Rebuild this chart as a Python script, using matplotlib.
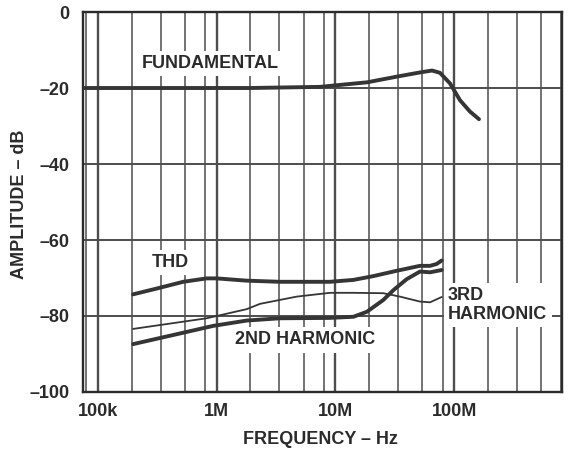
import matplotlib
matplotlib.use('Agg')
import matplotlib.pyplot as plt
from matplotlib.ticker import FixedLocator, NullFormatter

plt.rcParams['font.family'] = ['Liberation Sans', 'DejaVu Sans']
plt.rcParams['font.weight'] = 'bold'
plt.rcParams['axes.labelweight'] = 'bold'

# Data (frequency in Hz, amplitude in dB)
fund_freq = [75e3, 500e3, 1.91e6, 7.41e6, 18.5e6, 33e6, 51.6e6, 65.2e6, 76e6, 92.4e6, 112e6, 136e6, 162e6]
fund_db = [-20.0, -20.0, -20.0, -19.7, -18.5, -17.0, -15.9, -15.4, -16.0, -18.8, -23.2, -26.2, -28.2]

thd_freq = [198e3, 320e3, 523e3, 824e3, 1.0e6, 1.79e6, 3.41e6, 9.0e6, 14.2e6, 20.9e6, 32.8e6, 51.6e6, 62.7e6, 71.3e6, 78.6e6]
thd_db = [-74.3, -72.7, -71.0, -70.1, -70.1, -70.7, -71.0, -71.0, -70.5, -69.5, -68.1, -66.8, -66.8, -66.3, -65.4]

h2_freq = [198e3, 491e3, 936e3, 1.79e6, 3.41e6, 9.0e6, 14.2e6, 18.4e6, 25.3e6, 30.8e6, 39.9e6, 51.6e6, 62.7e6, 78.6e6]
h2_db = [-87.4, -84.6, -82.6, -81.2, -80.6, -80.5, -80.2, -78.9, -75.8, -73.2, -70.3, -68.3, -68.5, -67.9]

h3_freq = [198e3, 824e3, 1.79e6, 2.32e6, 4.72e6, 9.0e6, 14.2e6, 25.3e6, 35e6, 51.6e6, 62.7e6, 78.6e6]
h3_db = [-83.4, -80.6, -78.2, -76.8, -74.9, -73.9, -73.9, -74.0, -74.9, -76.2, -76.4, -75.0]

x_ticks = [1e5, 1e6, 1e7, 1e8]
x_labels = ['100k', '1M', '10M', '100M']
y_ticks = [0, -20, -40, -60, -80, -100]
y_labels = ['0', '\u201320', '\u201340', '\u201360', '\u201380', '\u2013100']

ink = '#2b2b2b'
grid_c = '#4d4d4d'
fs = 13

fig = plt.figure(figsize=(5.73, 4.5), dpi=100)
ax = fig.add_axes([0.1449, 0.1289, 0.8359, 0.8444])
ax.set_xscale('log')
ax.set_xlim(75e3, 8.1e8)
ax.set_ylim(-100, 0)

ax.set_xticks(x_ticks)
ax.set_xticklabels(x_labels)
minor = [d * m for d in [1e4, 1e5, 1e6, 1e7, 1e8] for m in [1.92, 3.37, 5.4, 8.0]]
ax.xaxis.set_minor_locator(FixedLocator(minor))
ax.xaxis.set_minor_formatter(NullFormatter())
ax.set_yticks(y_ticks)
ax.set_yticklabels(y_labels)
ax.tick_params(which='both', length=0, labelsize=fs, colors=ink)
ax.tick_params(axis='x', pad=8)
ax.tick_params(axis='y', pad=10)

ax.set_axisbelow(True)
ax.xaxis.grid(True, which='major', color=grid_c, lw=1.7)
ax.xaxis.grid(True, which='minor', color=grid_c, lw=1.1)
ax.yaxis.grid(True, which='major', color=grid_c, lw=1.4)
for s in ax.spines.values():
    s.set_linewidth(1.7)
    s.set_color(ink)

line_c = '#353535'
ax.plot(fund_freq, fund_db, color=line_c, lw=2.8, solid_capstyle='round', zorder=3)
ax.plot(thd_freq, thd_db, color=line_c, lw=2.8, solid_capstyle='round', zorder=3)
ax.plot(h2_freq, h2_db, color=line_c, lw=2.8, solid_capstyle='round', zorder=3)
ax.plot(h3_freq, h3_db, color=line_c, lw=1.3, solid_capstyle='round', zorder=3)

box = dict(facecolor='white', edgecolor='none', pad=3)
ax.text(2.33e5, -13.5, 'FUNDAMENTAL', fontsize=fs, color=ink, va='center', ha='left', bbox=box, zorder=4)
ax.text(2.83e5, -65.9, 'THD', fontsize=fs, color=ink, va='center', ha='left', bbox=box, zorder=4)
ax.text(1.43e6, -86.3, '2ND HARMONIC', fontsize=fs, color=ink, va='center', ha='left', bbox=box, zorder=4)
ax.text(8.9e7, -77.1, '3RD\nHARMONIC', fontsize=fs, color=ink, va='center', ha='left',
        linespacing=1.1, bbox=box, zorder=4)

ax.set_xlabel('FREQUENCY \u2013 Hz', fontsize=fs, color=ink)
ax.set_ylabel('AMPLITUDE \u2013 dB', fontsize=fs, color=ink)
ax.xaxis.set_label_coords(0.5 * (238 + 403) / 479 - 83 / 479, -0.103)
ax.yaxis.set_label_coords(-0.115, 0.495)

fig.savefig('out.png', dpi=100)
